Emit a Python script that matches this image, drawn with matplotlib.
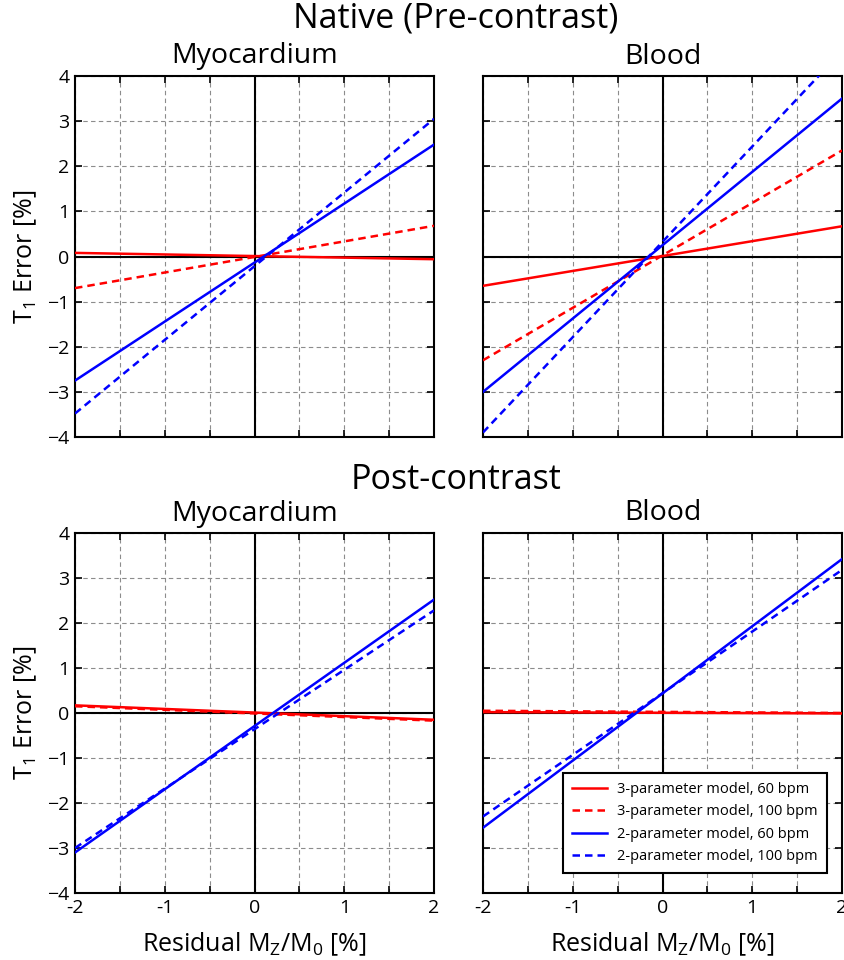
import numpy as np
import matplotlib
matplotlib.use('Agg')
import matplotlib.pyplot as plt

plt.rcParams['font.family'] = ['Open Sans', 'DejaVu Sans']
plt.rcParams['mathtext.default'] = 'regular'

# residual Mz/M0 [%] at the ends of each (straight) curve
x_ends = [-2, 2]

labels = ['3-parameter model, 60 bpm', '3-parameter model, 100 bpm',
          '2-parameter model, 60 bpm', '2-parameter model, 100 bpm']

# T1 error [%] at x = -2 and x = 2 for each model
native_myo = [[0.08, -0.06], [-0.70, 0.68], [-2.75, 2.48], [-3.48, 3.05]]
native_blood = [[-0.65, 0.67], [-2.30, 2.35], [-3.00, 3.50], [-3.90, 4.55]]
post_myo = [[0.17, -0.15], [0.15, -0.17], [-3.10, 2.52], [-3.00, 2.28]]
post_blood = [[0.02, -0.01], [0.05, 0.00], [-2.55, 3.42], [-2.30, 3.18]]

colors = ['red', 'red', 'blue', 'blue']
styles = ['-', (0, (3, 2)), '-', (0, (3, 2))]

fig = plt.figure(figsize=(8.44, 9.6), dpi=100)

W = 844.0
H = 960.0
pos = {
    'tl': [75 / W, 1 - 437 / H, 359 / W, 361 / H],
    'tr': [483 / W, 1 - 437 / H, 359 / W, 361 / H],
    'bl': [75 / W, 1 - 893 / H, 359 / W, 360 / H],
    'br': [483 / W, 1 - 893 / H, 359 / W, 360 / H],
}

panels = [('tl', native_myo, 'Myocardium'),
          ('tr', native_blood, 'Blood'),
          ('bl', post_myo, 'Myocardium'),
          ('br', post_blood, 'Blood')]

axes = {}
for key, data, title in panels:
    ax = fig.add_axes(pos[key])
    axes[key] = ax
    ax.set_xlim(-2, 2)
    ax.set_ylim(-4, 4)
    ax.set_xticks(np.arange(-2, 2.01, 0.5))
    ax.set_yticks(np.arange(-4, 4.01, 1))
    ax.set_xticklabels(['-2', '', '-1', '', '0', '', '1', '', '2'])
    ax.grid(True, color='#8c8c8c', linestyle=(0, (4, 3)), linewidth=0.8)
    ax.axhline(0, color='black', lw=1.5, zorder=2)
    ax.axvline(0, color='black', lw=1.5, zorder=2)
    for i in range(4):
        ax.plot(x_ends, data[i], color=colors[i], linestyle=styles[i],
                lw=1.8, label=labels[i], zorder=3)
    ax.tick_params(direction='in', top=True, right=True, length=5,
                   width=1.2, labelsize=14, pad=4)
    for s in ax.spines.values():
        s.set_linewidth(1.5)
    ax.set_title(title, fontsize=20.5, pad=9)
    if key in ('tr', 'br'):
        ax.set_yticklabels([])
    else:
        ax.set_ylabel('T$_1$ Error [%]', fontsize=18, labelpad=6)
    if key in ('tl', 'tr'):
        ax.set_xticklabels([])
    else:
        ax.set_xlabel('Residual M$_Z$/M$_0$ [%]', fontsize=18, labelpad=10)

fig.text(0.54, 0.981, 'Native (Pre-contrast)', ha='center', va='center', fontsize=24.5)
fig.text(0.54, 0.5, 'Post-contrast', ha='center', va='center', fontsize=24.5)

leg = axes['br'].legend(loc='lower right', fontsize=10.5, fancybox=False,
                        edgecolor='black', framealpha=1, borderpad=0.6,
                        handlelength=2.4, handletextpad=0.7,
                        bbox_to_anchor=(0.978, 0.036))
leg.get_frame().set_linewidth(1.5)

fig.savefig('out.png', dpi=100)
plt.close(fig)
